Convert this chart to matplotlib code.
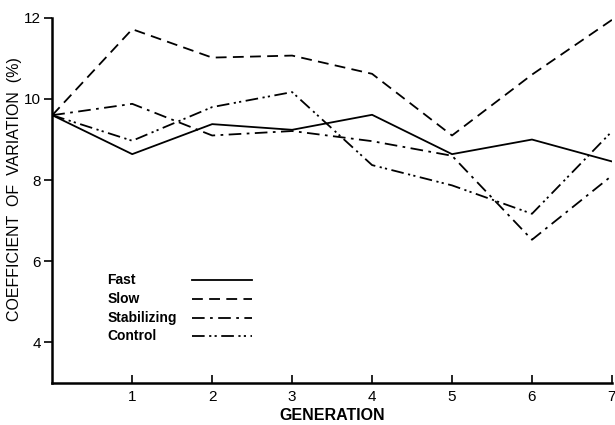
import matplotlib.pyplot as plt
from matplotlib.lines import Line2D

# data
generation = [0, 1, 2, 3, 4, 5, 6, 7]
fast = [9.6, 8.64, 9.38, 9.24, 9.61, 8.64, 9.0, 8.46]
slow = [9.6, 11.72, 11.02, 11.07, 10.62, 9.1, 10.6, 11.95]
stabilizing = [9.6, 9.88, 9.1, 9.21, 8.96, 8.6, 6.53, 8.11]
control = [9.6, 8.97, 9.8, 10.17, 8.37, 7.87, 7.17, 9.2]

names = ["Fast", "Slow", "Stabilizing", "Control"]
series = [fast, slow, stabilizing, control]
dashes = [None, (6, 3.5), (7, 3, 1.5, 3), (7, 2.5, 1.2, 1.8, 1.2, 2.5)]

plt.rcParams["font.family"] = ["Liberation Sans", "DejaVu Sans"]

fig = plt.figure(figsize=(6.15, 4.25), dpi=100)
ax = fig.add_axes([0.085, 0.099, 0.91, 0.859])

for y, d, n in zip(series, dashes, names):
    ln, = ax.plot(generation, y, color="black", lw=1.3, label=n)
    if d:
        ln.set_dashes(d)

ax.set_xlim(0, 7)
ax.set_ylim(3, 12)
ax.set_xticks([1, 2, 3, 4, 5, 6, 7])
ax.set_yticks([4, 6, 8, 10, 12])
ax.tick_params(axis="x", direction="in", length=6, width=1.2, labelsize=11, pad=5)
ax.tick_params(axis="y", direction="out", length=6, width=1.2, labelsize=11, pad=2)
for s in ["top", "right"]:
    ax.spines[s].set_visible(False)
for s in ["left", "bottom"]:
    ax.spines[s].set_linewidth(1.8)

ax.set_xlabel("GENERATION", fontsize=11.5, fontweight="bold", labelpad=3)
ax.set_ylabel("COEFFICIENT  OF  VARIATION  (%)", fontsize=11.5)
ax.yaxis.set_label_coords(-0.054, 0.53)

# legend drawn by hand: label on the left, line sample on the right
row_y = [0.282, 0.230, 0.178, 0.129]
for ry, d, n in zip(row_y, dashes, names):
    ax.text(0.098, ry, n, transform=ax.transAxes, fontsize=10, fontweight="bold",
            ha="left", va="center")
    sample = Line2D([0.25, 0.357], [ry, ry], transform=ax.transAxes,
                    color="black", lw=1.3)
    if d:
        sample.set_dashes(d)
    ax.add_line(sample)

fig.savefig("out.png", dpi=100)
